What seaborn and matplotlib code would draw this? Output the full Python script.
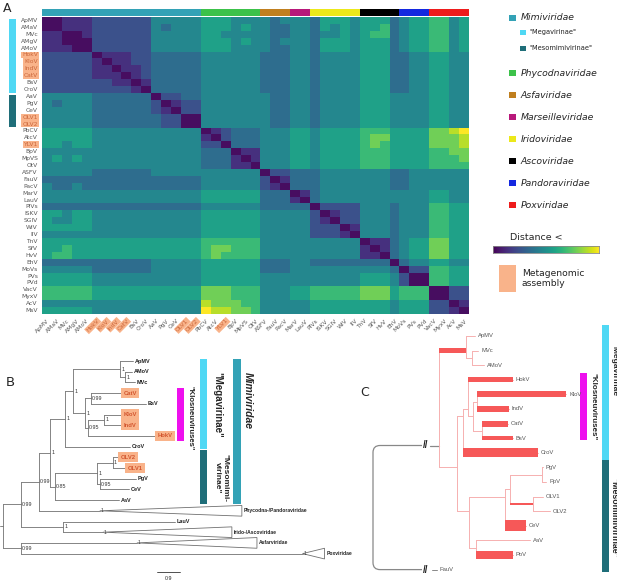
import numpy as np
import pandas as pd
import matplotlib
matplotlib.use("Agg")
import matplotlib.pyplot as plt
import seaborn as sns
from matplotlib.patches import Rectangle, Polygon, PathPatch
from matplotlib.path import Path

# ---------------- data ----------------
viruses = ["ApMV", "AMaV", "MVc", "AMgV", "AMoV", "HokV", "KloV", "IndV", "CatV", "BsV",
           "CroV", "AaV", "PgV", "CeV", "OLV1", "OLV2", "PbCV", "AtcV", "YLV1", "BpV",
           "MpVS", "OtV", "ASFV", "FauV", "PacV", "MarV", "LauV", "PIVs", "ISKV", "SGIV",
           "WIV", "IIV", "TnV", "SfV", "HvV", "EhV", "MoVs", "PVs", "PVd", "VacV",
           "MyxV", "AcV", "MsV"]
metagenomic = ["HokV", "KloV", "IndV", "CatV", "OLV1", "OLV2", "YLV1"]

# lower triangle of the distance matrix, read as levels 0 (dark) .. 9 (yellow)
distance_lower = [
    "0", "00", "110", "1100", "11100",
    "22222 0", "22222 10", "22222 110", "22222 1110",
    "22222 2211 0", "22222 2222 10",
    "44444 3333 33 0", "43444 3333 33 20", "44444 3333 33 210",
    "44444 3333 33 3220", "44444 3333 33 32200",
    "55555 4444 44 44444 0", "55555 4444 44 44444 10", "55455 4444 44 44444 220",
    "44444 4444 44 44444 333 0", "45454 4444 44 44444 333 10", "44444 4444 44 44444 333 110",
    "44444 3333 33 44444 444 444 0", "33333 3333 33 33333 444 444 20",
    "43343 3333 33 33333 444 444 210",
    "44444 4444 44 44444 555 555 333 0", "44444 4444 44 44444 555 555 333 10",
    "33333 3333 33 33333 444 444 333 33 0", "55455 4444 44 44444 555 555 444 44 20",
    "54455 4444 44 44444 555 555 444 44 210", "55555 4444 44 44444 555 555 444 44 2220",
    "44444 4444 44 44444 555 555 444 44 22210",
    "55555 5555 55 55555 666 666 444 44 44444 0",
    "55655 5555 55 55555 677 666 444 44 44444 10",
    "56655 5555 55 55555 676 666 444 44 44444 110",
    "33333 3333 33 44444 555 555 333 44 33333 3330",
    "44444 3333 33 44444 555 555 333 44 44444 4443 0",
    "55555 4444 44 44444 555 555 444 44 44444 5554 20",
    "55555 4444 44 44444 555 555 444 44 44444 5554 200",
    "66666 5555 55 55555 777 666 444 55 66666 7775 666 0",
    "66666 5555 55 55555 777 666 444 55 66666 7775 666 00",
    "44444 4444 44 44444 877 766 444 44 55555 5554 555 22 0",
    "55555 4444 44 44444 988 776 444 44 55555 5554 555 22 10",
]

families = ["Mimiviridae", "Phycodnaviridae", "Asfaviridae", "Marseilleviridae",
            "Iridoviridae", "Ascoviridae", "Pandoraviridae", "Poxviridae"]
family_counts = [16, 6, 3, 2, 5, 4, 3, 4]
family_colors = ["#33a2b6", "#3cc24a", "#c07f1f", "#b8187a", "#ece81a", "#000000", "#1428e0", "#ee1c1c"]
subfamilies = ['"Megavirinae"', '"Mesomimivirinae"']
subfamily_counts = [11, 5]
subfamily_colors = ["#4fd8f4", "#1f6e79"]
META = "#f9b38a"
KLOS = "#ee10ee"

n = len(viruses)
M = np.zeros((n, n))
for i, row in enumerate(distance_lower):
    vals = [int(c) for c in row.replace(" ", "")]
    for j, v in enumerate(vals):
        M[i, j] = v
        M[j, i] = v
df = pd.DataFrame(M, index=viruses, columns=viruses)

# trees: branch lengths
def tip(name, bl, meta=False, bar=0.0):
    return {"name": name, "bl": bl, "meta": meta, "bar": bar}

def clade(name, bl, depth, support):
    return {"name": name, "bl": bl, "depth": depth, "support": support, "bar": 0.0}

def node(bl, support, kids, bar=0.0):
    return {"bl": bl, "support": support, "kids": kids, "bar": bar}

tree_b = node(0, None, [
    node(0.70, "0.99", [
        node(0.70, "0.99", [
            node(0.43, "1", [
                node(0.59, "1", [
                    node(0.31, "1", [
                        node(1.84, "1", [tip("ApMV", 0.51),
                                         node(0.20, "1", [tip("AMoV", 0.27), tip("MVc", 0.39)])]),
                        node(0.47, "1", [
                            node(0.23, "0.99", [tip("CatV", 1.17, True), tip("BsV", 2.15)]),
                            node(0.12, "0.95", [node(0.62, "1", [tip("KloV", 0.66, True),
                                                                  tip("IndV", 0.66, True)]),
                                                tip("HokV", 2.62, True)]),
                        ]),
                    ]),
                    tip("CroV", 2.54),
                ]),
                node(0.20, "0.85", [
                    node(1.64, "1", [
                        node(0.62, "1", [tip("OLV2", 0.20, True), tip("OLV1", 0.47, True)]),
                        node(0.12, "0.95", [tip("PgV", 1.41), tip("CeV", 1.13)]),
                    ]),
                    tip("AaV", 2.50),
                ]),
            ]),
            clade("Phycodna-/Pandoraviridae", 2.38, 5.55, "1"),
        ]),
        node(1.64, "1", [tip("LauV", 4.38), clade("Irido-/Ascoviridae", 1.56, 5.04, "1")]),
    ]),
    node(0.70, "0.99", [clade("Asfarviridae", 4.53, 4.69, "1"),
                        clade("Poxviridae", 11.0, 0.86, "1")]),
])

tree_c = node(0, None, [
    node(6.6, None, [
        node(2.7, None, [tip("ApMV", 0.9), node(0.6, None, [tip("MVc", 0.6), tip("AMoV", 1.2)])], bar=5),
        node(1.8, None, [
            node(0.6, None, [
                node(0.5, None, [
                    tip("HokV", 4.5, bar=5),
                    node(0.5, None, [
                        node(0.4, None, [tip("KloV", 8.9, bar=6), tip("IndV", 3.2, bar=6)]),
                        node(0.9, None, [tip("CatV", 2.6, bar=6), tip("BsV", 3.1, bar=3.5)]),
                    ]),
                ]),
                tip("CroV", 7.5, bar=9),
            ]),
            node(1.2, None, [
                node(3.6, None, [
                    node(0.5, None, [
                        node(3.2, None, [tip("PgV", 0.1), tip("PpV", 0.4)]),
                        node(2.3, None, [tip("OLV1", 1.0), tip("OLV2", 1.7)], bar=1.5),
                    ]),
                    tip("CeV", 2.1, bar=11),
                ]),
                node(0.7, None, [tip("AaV", 5.4), tip("PoV", 3.7, bar=7.5)]),
            ]),
        ]),
    ]),
    tip("FauV", 6.4),
])

# ---------------- figure ----------------
sns.set_style("white")
plt.rcParams["font.family"] = ["DejaVu Sans"]
W, H = 617, 581
fig = plt.figure(figsize=(W / 100, H / 100), dpi=100)

def rect(x0, y0, x1, y1):
    return [x0 / W, 1 - y1 / H, (x1 - x0) / W, (y1 - y0) / H]

ov = fig.add_axes([0, 0, 1, 1])
ov.set_xlim(0, W)
ov.set_ylim(H, 0)
ov.axis("off")

# ---- panel A ----
axh = fig.add_axes(rect(42, 17, 469, 314))
sns.heatmap(df, ax=axh, cmap="viridis", vmin=-0.3, vmax=9, cbar=False,
            xticklabels=True, yticklabels=True)
axh.tick_params(axis="both", length=2, width=0.4, color="#777", labelsize=4.3,
                labelcolor="#555", pad=1)
plt.setp(axh.get_xticklabels(), rotation=45, ha="right", rotation_mode="anchor")
plt.setp(axh.get_yticklabels(), rotation=0)
for lab in axh.get_xticklabels() + axh.get_yticklabels():
    if lab.get_text() in metagenomic:
        lab.set_bbox(dict(boxstyle="square,pad=0.15", fc=META, ec="none"))
        lab.set_color("#c9653a")

col_colors = [c for c, k in zip(family_colors, family_counts) for _ in range(k)]
axt = fig.add_axes(rect(42, 9, 469, 16))
axt.bar(np.arange(n), 1, width=1, align="edge", color=col_colors, linewidth=0)
axt.set_xlim(0, n)
axt.set_ylim(0, 1)
axt.axis("off")

axl = fig.add_axes(rect(9, 17, 16, 314))
starts = np.concatenate([[0], np.cumsum(subfamily_counts)[:-1]])
axl.barh(starts + 0.25, 1, height=np.array(subfamily_counts) - 0.3, align="edge",
         color=subfamily_colors, linewidth=0)
axl.set_ylim(n, 0)
axl.set_xlim(0, 1)
axl.axis("off")

ov.text(3, 8, "A", fontsize=9, va="center", ha="left")

# legend
leg_y = [18, 73, 95, 117, 139, 161, 183, 205]
for name, col, y in zip(families, family_colors, leg_y):
    ov.add_patch(Rectangle((509, y - 3), 7, 6, fc=col, ec="none"))
    ov.text(521, y, name, fontsize=6.7, style="italic", va="center", ha="left")
for name, col, y in zip(subfamilies, subfamily_colors, [32, 48]):
    ov.add_patch(Rectangle((520, y - 2.5), 6, 5, fc=col, ec="none"))
    ov.text(529, y, name, fontsize=4.8, va="center", ha="left", color="#222")

ov.text(510, 238, "Distance <", fontsize=6.8, va="center", ha="left")
axc = fig.add_axes(rect(493, 246, 599, 253))
axc.imshow(np.linspace(0, 1, 256)[None, :], aspect="auto", cmap="viridis")
axc.set_xticks([])
axc.set_yticks([])
for s in axc.spines.values():
    s.set_color("#888")
    s.set_linewidth(0.6)
ov.add_patch(Rectangle((499, 265), 17, 27, fc=META, ec="none"))
ov.text(522, 278.5, "Metagenomic\nassembly", fontsize=6.6, va="center", ha="left",
        linespacing=1.25, color="#222")

# ---- tree helpers ----
def layout(nd, x0, counter, mode="mid"):
    nd["x"] = x0 + nd["bl"]
    if "kids" in nd:
        for k in nd["kids"]:
            layout(k, nd["x"], counter, mode)
        if mode == "mid":
            nd["y"] = (nd["kids"][0]["y"] + nd["kids"][-1]["y"]) / 2
        else:
            ys = list(tips_of(nd, {}).values())
            nd["y"] = float(np.mean([t["y"] for t in ys]))
    else:
        nd["y"] = counter[0]
        counter[0] += 1

def tips_of(nd, out):
    if "kids" in nd:
        for k in nd["kids"]:
            tips_of(k, out)
    else:
        out[nd["name"]] = nd
    return out

TF = ["Liberation Sans", "DejaVu Sans"]

# ---- panel B ----
bx0, bsx, by0, bdy = 3, 25.6, 361, 10.7
layout(tree_b, -tree_b["bl"], [0])
BX = lambda v: bx0 + v * bsx
BY = lambda v: by0 + v * bdy
lc = "#707070"

def draw_b(nd, px):
    X, Y = BX(nd["x"]), BY(nd["y"])
    if px is not None:
        ov.plot([px, X], [Y, Y], color=lc, lw=0.6)
    if "kids" in nd:
        ys = [BY(k["y"]) for k in nd["kids"]]
        ov.plot([X, X], [ys[0], ys[-1]], color=lc, lw=0.6)
        if nd["support"]:
            ov.text(X + 1.2, Y, nd["support"], fontsize=3.8, va="center", ha="left",
                    color="#333", family=TF)
        for k in nd["kids"]:
            draw_b(k, X)
    elif "depth" in nd:
        h = bdy * 0.5
        X2 = X + nd["depth"] * bsx
        ov.add_patch(Polygon([(X, Y), (X2, Y - h), (X2, Y + h)], closed=True,
                             fc="white", ec=lc, lw=0.6))
        ov.text(X + 1, Y, nd["support"], fontsize=3.5, va="center", ha="left",
                color="#333", family=TF)
        ov.text(X2 + 2, Y, nd["name"], fontsize=3.6, va="center", ha="left",
                fontweight="bold", color="#222", family=TF)
    else:
        if nd["meta"]:
            ov.text(X + 2.5, Y, nd["name"], fontsize=4.2, va="center", ha="left",
                    fontweight="bold", color="#d2552e", family=TF,
                    bbox=dict(boxstyle="square,pad=0.45", fc=META, ec="none"))
        else:
            ov.text(X + 1.5, Y, nd["name"], fontsize=4.0, va="center", ha="left",
                    fontweight="bold", color="#222", family=TF)

draw_b(tree_b, None)
ov.plot([0, BX(tree_b["x"])], [BY(tree_b["y"])] * 2, color=lc, lw=0.6)
ov.text(6, 382, "B", fontsize=9.5, va="center", ha="left")
# scale bar
ov.plot([157, 157 + 0.9 * bsx], [572, 572], color="#333", lw=0.6)
ov.text(157 + 0.45 * bsx, 578, "0.9", fontsize=3.8, ha="center", va="center", family=TF)

tb = tips_of(tree_b, {})
def span(tips, a, b, pad):
    return BY(tips[a]["y"]) - pad, BY(tips[b]["y"]) + pad

y0, y1 = span(tb, "CatV", "HokV", 5)
ov.add_patch(Rectangle((177, y0), 6.5, y1 - y0, fc=KLOS, ec="none"))
ov.text(190, (y0 + y1) / 2 + 4, '"Klosneuviruses"', rotation=-90, fontsize=5.6,
        fontweight="bold", va="center", ha="center", family=TF)
y0, y1 = span(tb, "ApMV", "CroV", 2.5)
ov.add_patch(Rectangle((200, y0), 7, y1 - y0, fc=subfamily_colors[0], ec="none"))
ov.text(217, 405, '"Megavirinae"', rotation=-90, fontsize=7, fontweight="bold",
        va="center", ha="center", family=TF)
y0b, y1b = span(tb, "OLV2", "AaV", 4)
ov.add_patch(Rectangle((200, y1 + 0.5), 7, y1b - y1 - 0.5, fc=subfamily_colors[1], ec="none"))
ov.text(221, 478, '"Mesomimi-\nvirinae"', rotation=-90, fontsize=6, fontweight="bold",
        va="center", ha="center", family=TF, linespacing=1.0)
ov.add_patch(Rectangle((233, y0), 8, y1b - y0, fc=family_colors[0], ec="none"))
ov.text(248, 400, "Mimiviridae", rotation=-90, fontsize=7.5, fontweight="bold",
        style="italic", va="center", ha="center", family=TF)

# ---- panel C ----
cx0, csx, cy0, cdy = 373, 10, 336, 14.6
layout(tree_c, -tree_c["bl"], [0], mode="mean")
CX = lambda v: cx0 + v * csx
CY = lambda v: cy0 + v * cdy
pink, red, gray = "#f6b0b0", "#f65858", "#888888"

def draw_c(nd, px, col):
    X, Y = CX(nd["x"]), CY(nd["y"])
    if px is not None:
        ov.plot([px, X], [Y, Y], color=col, lw=0.7, zorder=2)
        if nd["bar"] > 0:
            ov.add_patch(Rectangle((px, Y - nd["bar"] / 2), X - px, nd["bar"],
                                   fc=red, ec="none", zorder=3))
    if "kids" in nd:
        ys = [CY(k["y"]) for k in nd["kids"]]
        ov.plot([X, X], [ys[0], ys[-1]], color=col, lw=0.7, zorder=2)
        for k in nd["kids"]:
            draw_c(k, X, col)
    else:
        ov.text(X + 3, Y, nd["name"], fontsize=4.2, va="center", ha="left",
                color="#555", family=TF)

# gray root with rounded corners and breaks
rX = CX(tree_c["x"])
kid_top, kid_bot = tree_c["kids"]
yT, yB = CY(kid_top["y"]), CY(kid_bot["y"])
r = 7
brk = 424
verts = [(brk - 2, yT), (rX + r, yT), (rX, yT), (rX, yT + r), (rX, yB - r),
         (rX, yB), (rX + r, yB), (brk - 2, yB)]
codes = [Path.MOVETO, Path.LINETO, Path.CURVE3, Path.CURVE3, Path.LINETO,
         Path.CURVE3, Path.CURVE3, Path.LINETO]
ov.add_patch(PathPatch(Path(verts, codes), fc="none", ec=gray, lw=0.9))
for yy in (yT, yB):
    ov.text(brk + 2, yy, "//", fontsize=7, fontweight="bold", ha="center",
            va="center", color="#222", family=TF)
ov.plot([brk + 6, CX(kid_top["x"])], [yT, yT], color=gray, lw=0.9)
ov.plot([brk + 8, CX(kid_bot["x"])], [yB, yB], color=gray, lw=0.7)
ov.text(CX(kid_bot["x"]) + 3, yB, kid_bot["name"], fontsize=4.2, va="center",
        ha="left", color="#555", family=TF)
draw_c(kid_top, None, pink)
ov.text(360, 393, "C", fontsize=9, va="center", ha="left")

tc = tips_of(tree_c, {})
def cspan(a, b, p0, p1):
    return CY(tc[a]["y"]) - p0, CY(tc[b]["y"]) + p1

y0, y1 = cspan("HokV", "BsV", 7, 2)
ov.add_patch(Rectangle((580, y0), 7, y1 - y0, fc=KLOS, ec="none"))
ov.text(593, (y0 + y1) / 2, '"Klosneuviruses"', rotation=-90, fontsize=5.8,
        fontweight="bold", va="center", ha="center", family=TF)
y0, y1 = cspan("ApMV", "CroV", 11, 7)
ov.add_patch(Rectangle((602, y0), 7, y1 - y0, fc=subfamily_colors[0], ec="none"))
ov.text(614, 372, '"Megavirinae"', rotation=-90, fontsize=6, fontweight="bold",
        va="center", ha="center", family=TF)
y0b, y1b = cspan("PgV", "PoV", 7, 17)
ov.add_patch(Rectangle((602, y1 + 0.5), 7, y1b - y1 - 0.5, fc=subfamily_colors[1], ec="none"))
ov.text(614, 518, '"Mesomimivirinae"', rotation=-90, fontsize=6.3, fontweight="bold",
        va="center", ha="center", family=TF)

fig.savefig("out.png", dpi=100)
